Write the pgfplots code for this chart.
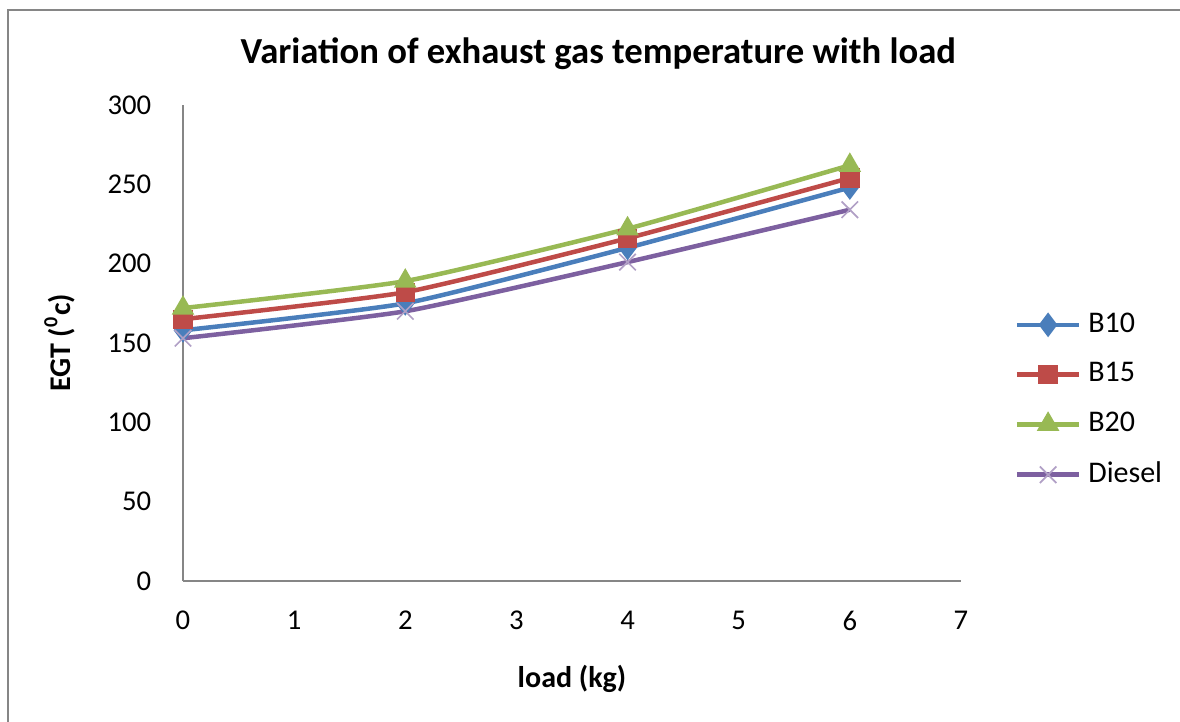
\documentclass[border=0pt]{standalone}
\usepackage{fontspec}
\setmainfont{Carlito}
\usepackage{pgfplots}
\pgfplotsset{compat=1.18}
\definecolor{cB10}{RGB}{74,126,187}
\definecolor{cB15}{RGB}{190,75,72}
\definecolor{cB20}{RGB}{152,185,84}
\definecolor{cDie}{RGB}{125,96,160}
\definecolor{axgray}{RGB}{134,134,134}
\begin{document}
\begin{tikzpicture}
\useasboundingbox (0pt,0pt) rectangle (354pt,-216.6pt);
\draw[axgray, line width=0.6pt] (2.4pt,-220pt) -- (2.4pt,-3pt) -- (360pt,-3pt);
\node[font=\fontsize{11}{13}\selectfont\bfseries] at (179.5pt,-16pt) {Variation of exhaust gas temperature with load};
\begin{axis}[
  at={(54.9pt,-174.3pt)}, anchor=south west,
  scale only axis, width=233.4pt, height=142.8pt,
  xmin=0, xmax=7, ymin=0, ymax=300,
  xtick={0,1,...,7}, ytick={0,50,...,300},
  axis x line*=bottom, axis y line*=left,
  axis line style={axgray, line width=0.5pt},
  tick style={draw=none},
  /pgf/number format/assume math mode=true,
  tick label style={font=\fontsize{8.6}{10}\selectfont},
  xticklabel style={yshift=-5.5pt},
  yticklabel style={xshift=-6pt},
  xlabel={\bfseries load (kg)},
  ylabel={\bfseries EGT (\textsuperscript{0}c)},
  label style={font=\fontsize{9}{10}\selectfont},
  xlabel style={yshift=-3.5pt},
  ylabel style={yshift=3pt},
  legend style={at={(1.068,0.38)}, anchor=west, draw=none, fill=none,
    font=\fontsize{9}{10}\selectfont, row sep=3.6pt,
    inner xsep=0pt, legend cell align=left,
    /tikz/every even column/.append style={column sep=0pt}},
  legend image code/.code={\draw[#1, mark repeat=2, mark phase=2] plot coordinates {(0cm,0cm) (0.33cm,0cm) (0.66cm,0cm)};},
  every axis plot/.append style={line width=1.35pt, smooth, tension=0.3},
]
\addplot[cB10, mark=diamond*, mark size=3.4pt, mark options={solid, fill=cB10, line width=0.4pt}] coordinates {(0,158) (2,175) (4,210) (6,248)};
\addlegendentry{B10}
\addplot[cB15, mark=square*, mark size=2.7pt, mark options={fill=cB15, line width=0.4pt}] coordinates {(0,165) (2,182) (4,216) (6,254)};
\addlegendentry{B15}
\addplot[cB20, mark=triangle*, mark size=3.5pt, mark options={fill=cB20, line width=0.4pt}] coordinates {(0,172) (2,189) (4,222) (6,262)};
\addlegendentry{B20}
\addplot[cDie, mark=x, mark size=3.5pt, mark options={line width=0.5pt, draw=cDie!60}] coordinates {(0,153) (2,170) (4,201) (6,234)};
\addlegendentry{Diesel}
\end{axis}
\end{tikzpicture}
\end{document}
